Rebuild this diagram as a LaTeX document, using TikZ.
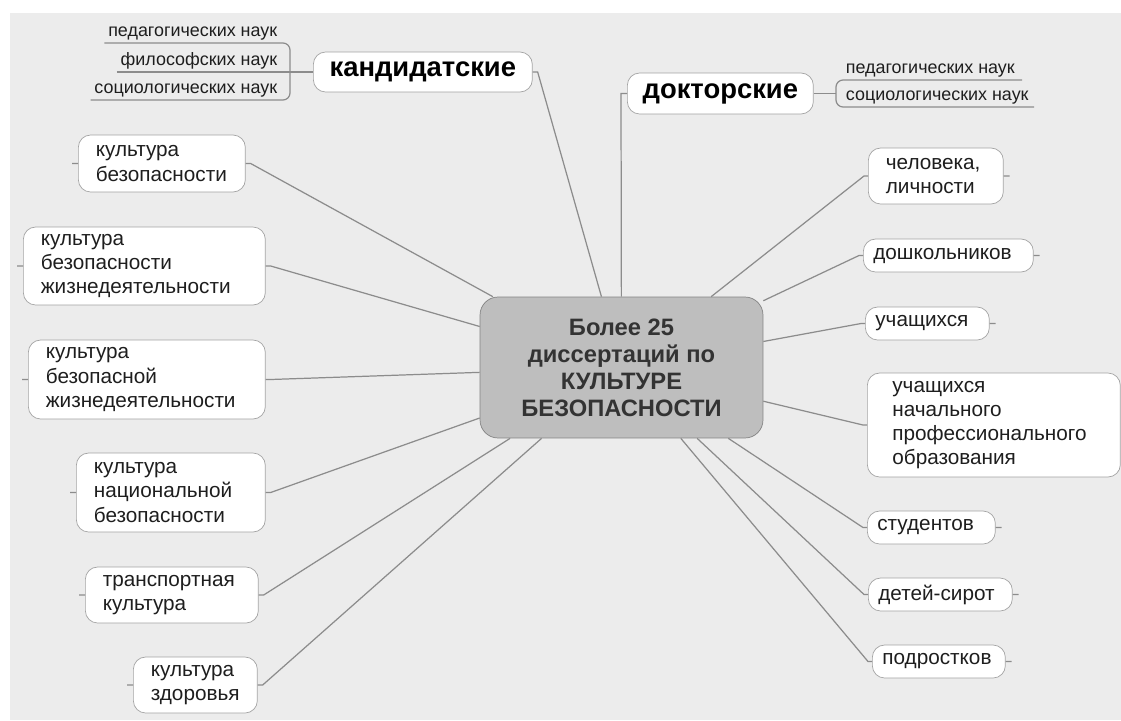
\documentclass[tikz,border=0pt]{standalone}
\usepackage{fontspec}
\setmainfont{Liberation Sans}
\usepackage{xcolor}
\usetikzlibrary{calc}
\definecolor{bg}{HTML}{ECECEC}
\definecolor{wire}{HTML}{8C8C8C}
\definecolor{frame}{HTML}{A4A4A4}
\definecolor{core}{HTML}{BEBEBE}
\definecolor{ink}{HTML}{1E1E1E}
\hyphenpenalty=10000
\exhyphenpenalty=10000

\begin{document}
\begin{tikzpicture}[x=0.02cm,y=-0.02cm,
  box/.style={draw=frame,fill=white,rounded corners=7pt,anchor=west,align=left,inner xsep=0.35cm,inner ysep=0pt,text=ink,font=\fontsize{11.8}{13.8}\selectfont},
  rbox/.style={box,inner xsep=0.2cm,minimum height=0.66cm},
  head/.style={draw=frame,fill=white,rounded corners=7pt,anchor=west,inner sep=0pt,text=black,font=\fontsize{15.6}{18}\selectfont\bfseries},
  corebox/.style={draw=frame!80!black,fill=core,rounded corners=0.36cm,align=center,inner sep=0pt,minimum width=5.66cm,minimum height=2.82cm,text=black!80,font=\fontsize{13.5}{15.4}\selectfont\bfseries},
  leaf/.style={inner xsep=2pt,inner ysep=1.5pt,text=ink,font=\fontsize{10.2}{12}\selectfont},
  link/.style={draw=wire,line width=0.7pt}]
\useasboundingbox (0,0) rectangle (1121,720);
\fill[bg] (10,13) rectangle (1121,720);

\node[corebox] (c) at (621.5,367.5) {Более 25\\диссертаций по\\КУЛЬТУРЕ\\БЕЗОПАСНОСТИ};

\node[head,minimum width=4.38cm,minimum height=0.8cm] (k) at (313,72) {кандидатские};
\node[head,minimum width=3.72cm,minimum height=0.82cm] (d) at (627,93.5) {докторские};

\node[leaf,anchor=south east] (kp) at (281,43) {педагогических наук};
\node[leaf,anchor=south east] (kf) at (281,72) {философских наук};
\node[leaf,anchor=south east] (ks) at (281,100) {социологических наук};
\coordinate (kb) at (290,72);
\draw[link,rounded corners=4pt] (kp.south west) -- (kp.south west -| kb) -- (ks.south west -| kb) -- (ks.south west);
\draw[link] (kf.south west) -- (k.west);

\node[leaf,anchor=south west] (dp) at (842,80) {педагогических наук};
\node[leaf,anchor=south west] (ds) at (842,107) {социологических наук};
\coordinate (db) at (836,93.5);
\draw[link,rounded corners=4pt] ([xshift=2pt]dp.south east) -- (dp.south east -| db) -- (ds.south east -| db) -- ([xshift=1pt]ds.south east);
\draw[link] (d.east) -- (db);

\node[box,text width=2.64cm,minimum height=1.14cm] (l1) at (78,163.5) {культура\\безопасности};
\node[box,text width=4.14cm,minimum height=1.56cm] (l2) at (23,266) {культура\\безопасности\\жизнедеятельности};
\node[box,text width=4.04cm,minimum height=1.58cm] (l3) at (28,379.5) {культура\\безопасной\\жизнедеятельности};
\node[box,text width=3.08cm,minimum height=1.58cm] (l4) at (76,492.5) {культура\\национальной\\безопасности};
\node[box,text width=2.76cm,minimum height=1.12cm] (l5) at (85,595) {транспортная\\культура};
\node[box,text width=1.78cm,minimum height=1.12cm] (l6) at (133,685) {культура\\здоровья};

\node[box,text width=2.00cm,minimum height=1.12cm] (r1) at (868,176) {человека,\\личности};
\node[rbox,text width=3.00cm] (r2) at (863,255.5) {дошкольников};
\node[rbox,text width=2.08cm] (r3) at (865,323.5) {учащихся};
\node[box,inner xsep=0.5cm,text width=4.06cm,minimum height=2.08cm] (r4) at (867,425) {учащихся\\начального\\профессионального\\образования};
\node[rbox,text width=2.16cm] (r5) at (867,527.5) {студентов};
\node[rbox,text width=2.48cm] (r6) at (868,594.5) {детей-сирот};
\node[rbox,text width=2.26cm] (r7) at (872,661.5) {подростков};

\draw[link] (k.east) -- ++(5,0) -- (c);
\draw[link] (d.west) -- ++(-6,0) -- (c);

\draw[link] (l1.west) -- ++(-6,0) (l1.east) -- ++(5,0) -- (c);
\draw[link] (l2.west) -- ++(-6,0) (l2.east) -- ++(5,0) -- (c);
\draw[link] (l3.west) -- ++(-6,0) (l3.east) -- ++(5,0) -- (c);
\draw[link] (l4.west) -- ++(-6,0) (l4.east) -- ++(5,0) -- (c);
\draw[link] (l5.west) -- ++(-6,0) (l5.east) -- ++(5,0) -- (c);
\draw[link] (l6.west) -- ++(-6,0) (l6.east) -- ++(5,0) -- (c);

\draw[link] (r1.east) -- ++(6,0) (r1.west) -- ++(-4,0) -- (c);
\draw[link] (r2.east) -- ++(6,0) (r2.west) -- ++(-4,0) -- (c);
\draw[link] (r3.east) -- ++(6,0) (r3.west) -- ++(-4,0) -- (c);
\draw[link] (r4.west) -- ++(-4,0) -- (c);
\draw[link] (r5.east) -- ++(6,0) (r5.west) -- ++(-4,0) -- (c);
\draw[link] (r6.east) -- ++(6,0) (r6.west) -- ++(-4,0) -- (c);
\draw[link] (r7.east) -- ++(6,0) (r7.west) -- ++(-4,0) -- (c);
\end{tikzpicture}
\end{document}
